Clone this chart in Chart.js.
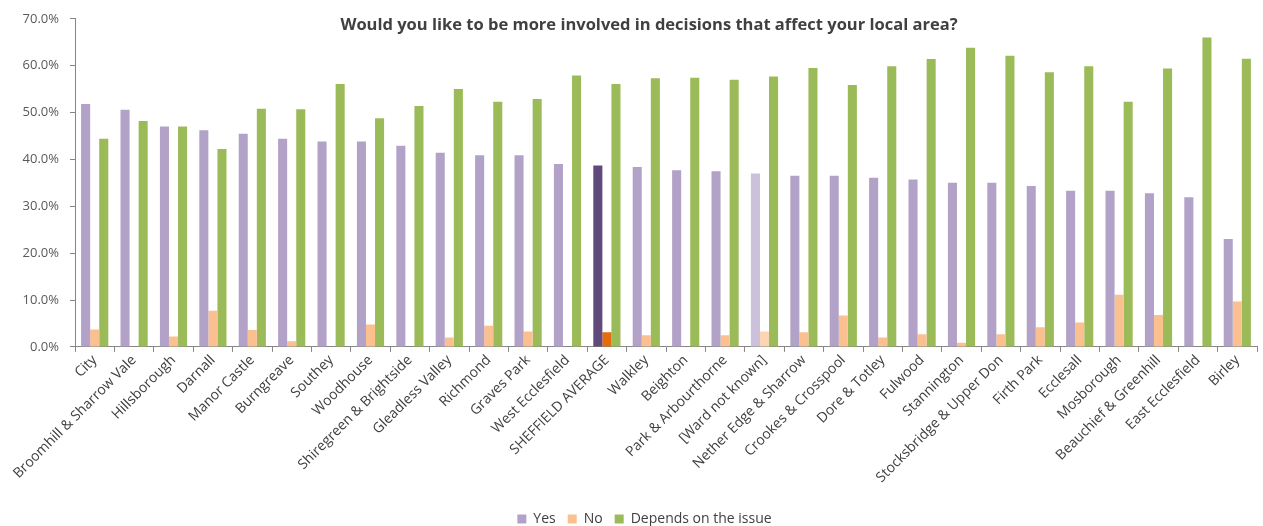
<!DOCTYPE html>
<html>
<head>
<meta charset="utf-8">
<script src="https://cdn.jsdelivr.net/npm/chart.js@4.4.1/dist/chart.umd.min.js"></script>
<style>
html,body{margin:0;padding:0;background:#fff;}
#wrap{position:relative;width:1263px;height:526px;}
</style>
</head>
<body>
<div id="wrap"><canvas id="c" width="1263" height="526"></canvas></div>
<script>
const categories = ["City","Broomhill & Sharrow Vale","Hillsborough","Darnall","Manor Castle","Burngreave","Southey","Woodhouse","Shiregreen & Brightside","Gleadless Valley","Richmond","Graves Park","West Ecclesfield","SHEFFIELD AVERAGE","Walkley","Beighton","Park & Arbourthorne","[Ward not known]","Nether Edge & Sharrow","Crookes & Crosspool","Dore & Totley","Fulwood","Stannington","Stocksbridge & Upper Don","Firth Park","Ecclesall","Mosborough","Beauchief & Greenhill","East Ecclesfield","Birley"];
const yesValues = [51.8,50.6,47.0,46.2,45.5,44.4,43.8,43.8,42.9,41.4,40.9,40.9,39.0,38.7,38.4,37.7,37.5,37.0,36.5,36.5,36.1,35.7,35.0,35.0,34.3,33.3,33.3,32.8,31.9,23.0];
const noValues = [3.7,null,2.2,7.7,3.6,1.2,null,4.8,null,2.0,4.5,3.3,null,3.1,2.5,null,2.5,3.3,3.1,6.7,2.0,2.7,0.9,2.7,4.2,5.2,11.1,6.8,null,9.7];
const dependsValues = [44.4,48.2,47.0,42.2,50.8,50.7,56.1,48.8,51.4,55.0,52.3,52.9,57.9,56.1,57.3,57.4,57.0,57.7,59.5,55.9,59.9,61.4,63.8,62.1,58.6,59.9,52.3,59.4,66.0,61.5];
const yTicks = [0,10,20,30,40,50,60,70];
const seriesNames = ["Yes","No","Depends on the issue"];
const titleText = "Would you like to be more involved in decisions that affect your local area?";

const FONT = "'Open Sans', 'Noto Sans', sans-serif";
const AVG = categories.indexOf("SHEFFIELD AVERAGE");
const UNK = categories.indexOf("[Ward not known]");
function colors(base, avg, unk){
  return categories.map((c,i)=> i===AVG ? avg : (i===UNK ? unk : base));
}

const titlePlugin = {
  id:'insideTitle',
  afterLayout(chart){
    if (chart.legend){ chart.legend.left += 16; chart.legend.right += 16; }
  },
  afterDraw(chart){
    const ctx = chart.ctx;
    ctx.save();
    ctx.font = "bold 16.5px " + FONT;
    ctx.fillStyle = "#404040";
    ctx.textAlign = "center";
    ctx.textBaseline = "middle";
    ctx.fillText(titleText, 649, 25);
    ctx.restore();
  }
};

new Chart(document.getElementById('c'), {
  type:'bar',
  data:{
    labels:categories,
    datasets:[
      {label:seriesNames[0], data:yesValues, backgroundColor:colors('#b3a2c7','#604a7b','#ccc1da')},
      {label:seriesNames[1], data:noValues, backgroundColor:colors('#fac090','#e46c0a','#fcd5b5')},
      {label:seriesNames[2], data:dependsValues, backgroundColor:colors('#9bbb59','#9bbb59','#9bbb59')}
    ]
  },
  options:{
    responsive:false,
    animation:false,
    layout:{padding:{left:0,right:6,top:10,bottom:-10}},
    datasets:{bar:{categoryPercentage:0.69,barPercentage:1.0}},
    plugins:{
      legend:{
        position:'bottom',
        labels:{boxWidth:9,boxHeight:9,color:'#404040',font:{family:FONT,size:14},padding:12}
      },
      tooltip:{enabled:false},
      title:{display:false}
    },
    scales:{
      x:{
        afterFit(scale){scale.height += 14;},
        grid:{display:true,drawOnChartArea:false,offset:true,tickLength:5,color:'#868686'},
        border:{color:'#868686'},
        ticks:{color:'#404040',font:{family:FONT,size:14},maxRotation:45,minRotation:45,autoSkip:false,padding:0}
      },
      y:{
        min:0,max:70,
        afterBuildTicks(scale){scale.ticks = yTicks.map(v=>({value:v}));},
        afterFit(scale){scale.width = 75;},
        grid:{display:true,drawOnChartArea:false,tickLength:5,color:'#868686'},
        border:{color:'#868686'},
        ticks:{color:'#595959',font:{family:FONT,size:13},padding:11,callback:v=>v.toFixed(1)+'%'}
      }
    }
  },
  plugins:[titlePlugin]
});
</script>
</body>
</html>
